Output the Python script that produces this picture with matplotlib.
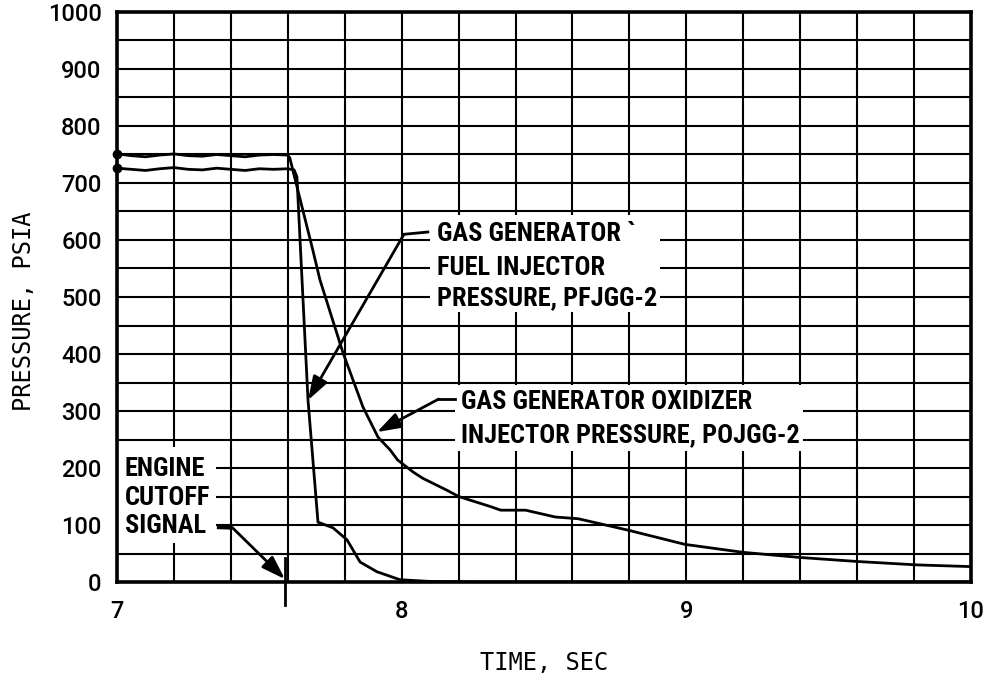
import matplotlib
matplotlib.use("Agg")
import matplotlib.pyplot as plt
from matplotlib.patches import Rectangle
from matplotlib.ticker import MultipleLocator

# Gas generator injector pressures after engine cutoff
fuel_time = [7.0, 7.05, 7.1, 7.15, 7.2, 7.25, 7.3, 7.35, 7.4, 7.45, 7.5, 7.55, 7.6,
             7.622, 7.632, 7.65, 7.671, 7.706, 7.759, 7.808, 7.854, 7.913, 7.994,
             8.1, 8.3, 10.0]
fuel_psi = [726, 724, 722, 725, 727, 724, 723, 726, 724, 722, 725, 724, 725,
            723, 711, 530, 319, 105, 95, 74, 35, 18, 4,
            1, 0, 0]

ox_time = [7.0, 7.05, 7.1, 7.15, 7.2, 7.25, 7.3, 7.35, 7.4, 7.45, 7.5, 7.55, 7.6,
           7.607, 7.688, 7.713, 7.794, 7.864, 7.917, 7.959, 7.986, 8.04, 8.074,
           8.159, 8.2, 8.314, 8.348, 8.435, 8.54, 8.62, 8.795, 8.995, 9.2, 9.4,
           9.6, 9.81, 10.0]
ox_psi = [751, 748, 746, 749, 751, 748, 747, 750, 748, 746, 749, 750, 749,
          744, 582, 530, 402, 307, 254, 232, 214, 193, 182,
          161, 150, 132, 126, 126, 114, 111, 91, 66, 52, 43,
          36, 30, 27]

cutoff_time = 7.59

x_ticks = [7, 8, 9, 10]
y_ticks = [0, 100, 200, 300, 400, 500, 600, 700, 800, 900, 1000]

fuel_label = ["GAS GENERATOR `", "FUEL INJECTOR", "PRESSURE, PFJGG-2"]
ox_label = ["GAS GENERATOR OXIDIZER", "INJECTOR PRESSURE, POJGG-2"]
cutoff_label = ["ENGINE", "CUTOFF", "SIGNAL"]

note_font = dict(family=["Roboto Condensed", "Roboto", "DejaVu Sans"],
                 weight="bold", size=19)
tick_font = dict(family=["Roboto", "DejaVu Sans"], weight="medium", size=17)
label_font = dict(family=["DejaVu Sans Mono"], size=17)

fig = plt.figure(figsize=(9.93, 6.83), dpi=100)
ax = fig.add_axes([117 / 993, 1 - 582 / 683, (971 - 117) / 993, (582 - 12) / 683])

ax.set_xlim(7, 10)
ax.set_ylim(0, 1000)
ax.set_xticks(x_ticks)
ax.set_xticklabels([str(v) for v in x_ticks], **tick_font)
ax.set_yticks(y_ticks)
ax.set_yticklabels([str(v) for v in y_ticks], **tick_font)
ax.xaxis.set_minor_locator(MultipleLocator(0.2))
ax.yaxis.set_minor_locator(MultipleLocator(50))
ax.tick_params(which="both", length=0)
ax.tick_params(axis="x", pad=13)
ax.tick_params(axis="y", pad=11)
ax.set_axisbelow(True)
ax.grid(which="both", color="black", linewidth=1.5)
for sp in ax.spines.values():
    sp.set_linewidth(2.6)

ax.set_xlabel("TIME, SEC", labelpad=20, **label_font)
ax.set_ylabel("PRESSURE, PSIA", **label_font)
ax.yaxis.set_label_coords(-0.095, 0.475)

# white label panels that interrupt the grid
for (x0, y0, x1, y1) in [(8.099, 474, 8.907, 644),
                         (8.187, 230, 9.41, 345),
                         (7.0, 68, 7.348, 237)]:
    ax.add_patch(Rectangle((x0, y0), x1 - x0, y1 - y0, facecolor="white",
                           edgecolor="none", zorder=1))

# pressure traces
ax.plot(ox_time, ox_psi, color="black", linewidth=2.0, zorder=3)
ax.plot(fuel_time, fuel_psi, color="black", linewidth=2.0, zorder=3)
ax.plot([ox_time[0], fuel_time[0]], [ox_psi[0], fuel_psi[0]], "o",
        color="black", markersize=6, zorder=4, clip_on=False)

# label text
for txt, yv in zip(fuel_label, [610, 550, 498]):
    ax.text(8.124, yv, txt, va="center", ha="left", zorder=5, **note_font)
for txt, yv in zip(ox_label, [315, 257]):
    ax.text(8.208, yv, txt, va="center", ha="left", zorder=5, **note_font)
for txt, yv in zip(cutoff_label, [198, 148, 98]):
    ax.text(7.028, yv, txt, va="center", ha="left", zorder=5, **note_font)

arrow = dict(arrowstyle="-|>,head_length=0.9,head_width=0.3", color="black",
             linewidth=2.0, shrinkA=0, shrinkB=0, mutation_scale=16)

# leader to fuel trace
ax.plot([8.092, 8.008], [614, 610], color="black", linewidth=2.0, zorder=4)
ax.annotate("", xy=(7.671, 319), xytext=(8.008, 610), arrowprops=arrow, zorder=4)

# leader to oxidizer trace
ax.plot([8.187, 8.13], [321, 321], color="black", linewidth=2.0, zorder=4)
ax.annotate("", xy=(7.913, 263), xytext=(8.13, 321), arrowprops=arrow, zorder=4)

# leader to cutoff signal
ax.plot([7.351, 7.404], [97, 96], color="black", linewidth=3.5, zorder=4,
        solid_capstyle="butt")
ax.annotate("", xy=(cutoff_time, 5), xytext=(7.404, 96), arrowprops=arrow, zorder=4)
ax.plot([cutoff_time, cutoff_time], [42, -40], color="black", linewidth=2.0,
        zorder=4, clip_on=False)

fig.savefig("out.png", dpi=100)
